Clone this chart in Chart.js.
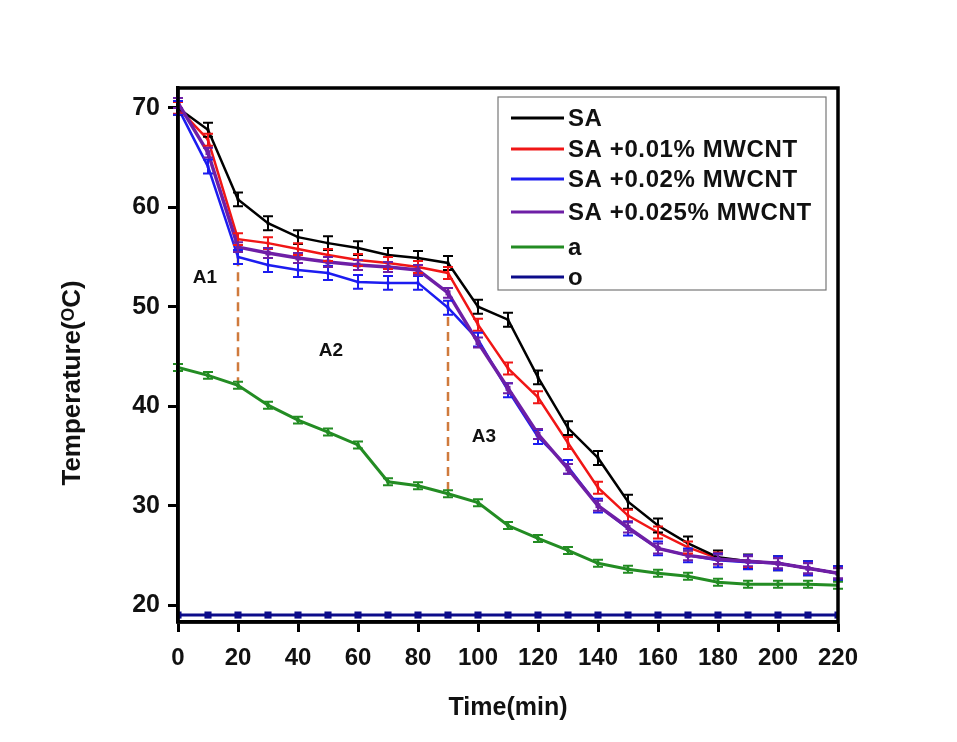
<!DOCTYPE html>
<html>
<head>
    <title>Cooling curves</title>
    <script src="https://cdn.jsdelivr.net/npm/chart.js"></script>
    <style>
        body { margin: 0; background: #fff; }
        #wrap { width: 957px; height: 742px; }
    </style>
</head>
<body>
<div id="wrap"><canvas id="myChart"></canvas></div>

<script>
    // time axis (min)
    const times = [0, 10, 20, 30, 40, 50, 60, 70, 80, 90, 100, 110, 120, 130, 140, 150, 160, 170, 180, 190, 200, 210, 220];

    // temperatures
    const sa      = [70.0, 67.8, 60.8, 58.4, 57.0, 56.4, 55.9, 55.2, 54.9, 54.4, 50.0, 48.7, 42.9, 37.8, 34.8, 30.4, 28.0, 26.2, 24.8, 24.4, 24.2, 23.7, 23.2];
    const sa001   = [70.0, 66.8, 56.8, 56.4, 55.8, 55.2, 54.7, 54.4, 54.0, 53.4, 48.2, 43.8, 40.9, 36.3, 31.8, 29.0, 27.3, 25.8, 24.7, 24.4, 24.2, 23.7, 23.2];
    const sa002   = [70.0, 64.1, 55.0, 54.2, 53.7, 53.4, 52.5, 52.4, 52.4, 49.9, 46.7, 41.6, 36.9, 33.9, 30.0, 27.7, 25.7, 25.0, 24.5, 24.3, 24.2, 23.7, 23.2];
    const sa0025  = [70.5, 65.5, 56.0, 55.4, 54.9, 54.5, 54.2, 54.0, 53.7, 51.4, 46.4, 41.8, 37.2, 33.7, 30.0, 27.8, 25.7, 25.0, 24.6, 24.4, 24.2, 23.7, 23.2];
    const seriesA = [43.9, 43.1, 42.1, 40.1, 38.6, 37.4, 36.1, 32.4, 32.0, 31.2, 30.3, 28.0, 26.7, 25.5, 24.2, 23.6, 23.2, 22.9, 22.3, 22.1, 22.1, 22.1, 22.0];
    const seriesO = [19.0, 19.0, 19.0, 19.0, 19.0, 19.0, 19.0, 19.0, 19.0, 19.0, 19.0, 19.0, 19.0, 19.0, 19.0, 19.0, 19.0, 19.0, 19.0, 19.0, 19.0, 19.0, 19.0];

    // error bar half-heights per series
    const errSA = 0.7, err001 = 0.6, err002 = 0.7, err0025 = 0.5, errA = 0.35, errO = 0;

    const seriesNames = ['SA', 'SA +0.01% MWCNT', 'SA +0.02% MWCNT', 'SA +0.025% MWCNT', 'a', 'o'];
    const yTicks = [20, 30, 40, 50, 60, 70];

    // dashed region dividers: [time, upper temp, lower temp]
    const dividers = [[20, 56.5, 42.1], [90, 52.0, 31.2]];
    // region labels: [text, time, temp]
    const regionLabels = [['A1', 9, 52.9], ['A2', 51, 45.6], ['A3', 102, 36.9]];

    const pts = arr => arr.map((v, i) => ({ x: times[i], y: v }));

    function ds(label, values, color, err, width, ptRadius) {
        return {
            label: label,
            data: pts(values),
            borderColor: color,
            backgroundColor: color,
            borderWidth: width,
            pointStyle: 'rect',
            pointRadius: ptRadius,
            pointBorderWidth: 0,
            errorBar: err,
            tension: 0
        };
    }

    const data = {
        datasets: [
            ds(seriesNames[0], sa, '#000000', errSA, 2.5, 2),
            ds(seriesNames[1], sa001, '#f01616', err001, 2.5, 2),
            ds(seriesNames[2], sa002, '#1c1cf0', err002, 2.5, 2),
            ds(seriesNames[3], sa0025, '#6e1fa6', err0025, 3.5, 3.5),
            ds(seriesNames[4], seriesA, '#238c23', errA, 3, 2.5),
            ds(seriesNames[5], seriesO, '#0c0c8a', errO, 3, 5)
        ]
    };
    // purple on top, then the others
    data.datasets[3].order = 0;
    data.datasets[0].order = 1;
    data.datasets[1].order = 2;
    data.datasets[2].order = 3;
    data.datasets[4].order = 4;
    data.datasets[5].order = 5;

    // error bars
    const errorBars = {
        id: 'errorBars',
        afterDatasetsDraw(chart) {
            const ctx = chart.ctx;
            const xs = chart.scales.x, ys = chart.scales.y;
            ctx.save();
            chart.data.datasets.forEach(d => {
                if (!d.errorBar) return;
                ctx.strokeStyle = d.borderColor;
                ctx.lineWidth = 2;
                d.data.forEach(p => {
                    const x = xs.getPixelForValue(p.x);
                    const y1 = ys.getPixelForValue(p.y + d.errorBar);
                    const y2 = ys.getPixelForValue(p.y - d.errorBar);
                    ctx.beginPath();
                    ctx.moveTo(x, y1); ctx.lineTo(x, y2);
                    ctx.moveTo(x - 5, y1); ctx.lineTo(x + 5, y1);
                    ctx.moveTo(x - 5, y2); ctx.lineTo(x + 5, y2);
                    ctx.stroke();
                });
            });
            ctx.restore();
        }
    };

    // dashed dividers, region labels, frame, y title and legend
    const decorations = {
        id: 'decorations',
        beforeDatasetsDraw(chart) {
            const ctx = chart.ctx;
            const xs = chart.scales.x, ys = chart.scales.y;
            ctx.save();
            ctx.strokeStyle = '#cf7a3c';
            ctx.lineWidth = 2.5;
            ctx.setLineDash([9, 6]);
            dividers.forEach(dv => {
                const x = xs.getPixelForValue(dv[0]);
                ctx.beginPath();
                ctx.moveTo(x, ys.getPixelForValue(dv[1]));
                ctx.lineTo(x, ys.getPixelForValue(dv[2]));
                ctx.stroke();
            });
            ctx.setLineDash([]);
            ctx.fillStyle = '#111';
            ctx.font = 'bold 19px "Liberation Sans", Arial, sans-serif';
            ctx.textAlign = 'center';
            ctx.textBaseline = 'middle';
            regionLabels.forEach(l => {
                ctx.fillText(l[0], xs.getPixelForValue(l[1]), ys.getPixelForValue(l[2]));
            });
            ctx.restore();
        },
        afterDraw(chart) {
            const ctx = chart.ctx;
            const a = chart.chartArea;
            ctx.save();
            // frame
            ctx.strokeStyle = '#000';
            ctx.lineWidth = 3.5;
            ctx.strokeRect(a.left, a.top, a.right - a.left, a.bottom - a.top);

            // y axis title
            ctx.save();
            ctx.translate(73, 383);
            ctx.rotate(-Math.PI / 2);
            ctx.fillStyle = '#111';
            ctx.font = 'bold 26px "Liberation Sans", Arial, sans-serif';
            ctx.textAlign = 'center';
            ctx.textBaseline = 'middle';
            ctx.fillText('Temperature(\u1D3CC)', 0, 0);
            ctx.restore();

            // legend box
            const bx = a.left + 320, by = a.top + 9, bw = 328, bh = 193;
            ctx.fillStyle = '#fff';
            ctx.fillRect(bx, by, bw, bh);
            ctx.strokeStyle = '#777';
            ctx.lineWidth = 1.2;
            ctx.strokeRect(bx, by, bw, bh);
            const rowY = [21, 52, 82, 115, 150, 180];
            ctx.font = 'bold 24px "Liberation Sans", Arial, sans-serif';
            ctx.letterSpacing = '0.6px';
            ctx.textAlign = 'left';
            ctx.textBaseline = 'middle';
            chart.data.datasets.forEach((d, i) => {
                const y = by + rowY[i];
                ctx.strokeStyle = d.borderColor;
                ctx.lineWidth = 3;
                ctx.beginPath();
                ctx.moveTo(bx + 13, y);
                ctx.lineTo(bx + 66, y);
                ctx.stroke();
                ctx.fillStyle = '#111';
                ctx.fillText(d.label, bx + 70, y + 1);
            });
            ctx.restore();
        }
    };

    const config = {
        type: 'line',
        data: data,
        options: {
            responsive: true,
            maintainAspectRatio: false,
            animation: false,
            layout: { padding: { left: 48, top: 88, right: 119, bottom: 0 } },
            plugins: {
                legend: { display: false },
                tooltip: { enabled: false }
            },
            scales: {
                x: {
                    type: 'linear',
                    min: 0,
                    max: 220,
                    afterFit: s => { s.height = 120; },
                    ticks: {
                        stepSize: 20,
                        color: '#111',
                        padding: 12,
                        font: { size: 24, weight: 'bold', family: '"Liberation Sans Narrow", "Liberation Sans", Arial, sans-serif' }
                    },
                    grid: { drawOnChartArea: false, tickLength: 10, tickWidth: 3, tickColor: '#000' },
                    border: { color: '#000', width: 3.5 },
                    title: {
                        display: true,
                        text: 'Time(min)',
                        color: '#111',
                        padding: { top: 4, bottom: 19 },
                        font: { size: 25, weight: 'bold', family: '"Liberation Sans Narrow", "Liberation Sans", Arial, sans-serif' }
                    }
                },
                y: {
                    min: 18.3,
                    max: 72,
                    afterFit: s => { s.width = 130; },
                    afterBuildTicks: s => { s.ticks = yTicks.map(v => ({ value: v })); },
                    ticks: {
                        color: '#111',
                        padding: 8,
                        font: { size: 25, weight: 'bold', family: '"Liberation Sans", Arial, sans-serif' }
                    },
                    grid: { drawOnChartArea: false, tickLength: 10, tickWidth: 3, tickColor: '#000' },
                    border: { color: '#000', width: 3.5 },
                    title: { display: false }
                }
            }
        },
        plugins: [errorBars, decorations]
    };

    window.onload = function() {
        const ctx = document.getElementById('myChart').getContext('2d');
        new Chart(ctx, config);
    };
</script>
</body>
</html>
